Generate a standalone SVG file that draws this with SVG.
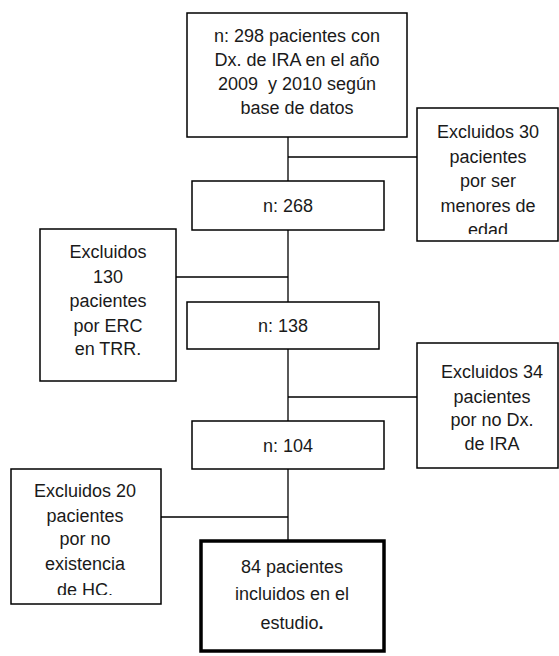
<svg xmlns="http://www.w3.org/2000/svg" width="559" height="656" viewBox="0 0 559 656">
<style>
.box{fill:#fff;stroke:#000;stroke-width:1.5}
.thick{fill:#fff;stroke:#000;stroke-width:3.5}
.ln{stroke:#000;stroke-width:1.3;fill:none}
text{font-family:"Liberation Sans",Arial,sans-serif;font-size:18px;fill:#1a1a1a;text-anchor:middle;white-space:pre}
</style>
<defs>
<clipPath id="c30"><rect x="417" y="108" width="142" height="126"/></clipPath>
<clipPath id="c20"><rect x="11" y="469" width="150" height="126"/></clipPath>
</defs>
<g id="connectors">
<path class="ln" d="M288 137V181M288 230V302M288 349V421M288 469V541"/>
<path class="ln" d="M288 157H417M176 277H288M288 397H417M161 517H288"/>
</g>
<g id="n298">
<rect class="box" x="187" y="13" width="220" height="124"/>
<text x="297" y="42">n: 298 pacientes con</text>
<text x="297" y="66">Dx. de IRA en el año</text>
<text x="297" y="90" xml:space="preserve">2009  y 2010 según</text>
<text x="297" y="114">base de datos</text>
</g>
<g id="excl30">
<rect class="box" x="417" y="108" width="141" height="133"/>
<g clip-path="url(#c30)">
<text x="488" y="138">Excluidos 30</text>
<text x="488" y="163">pacientes</text>
<text x="488" y="187">por ser</text>
<text x="488" y="212">menores de</text>
<text x="488" y="236">edad</text>
</g>
</g>
<g id="n268">
<rect class="box" x="192" y="181" width="192" height="49"/>
<text x="288" y="212">n: 268</text>
</g>
<g id="excl130">
<rect class="box" x="40" y="229" width="136" height="152"/>
<text x="108" y="258">Excluidos</text>
<text x="108" y="283">130</text>
<text x="108" y="307">pacientes</text>
<text x="108" y="332">por ERC</text>
<text x="108" y="355">en TRR.</text>
</g>
<g id="n138">
<rect class="box" x="187" y="302" width="192" height="47"/>
<text x="283" y="332">n: 138</text>
</g>
<g id="excl34">
<rect class="box" x="417" y="343" width="141" height="125"/>
<text x="492" y="378">Excluidos 34</text>
<text x="492" y="403">pacientes</text>
<text x="492" y="426">por no Dx.</text>
<text x="492" y="450">de IRA</text>
</g>
<g id="n104">
<rect class="box" x="192" y="421" width="192" height="48"/>
<text x="288" y="452">n: 104</text>
</g>
<g id="excl20">
<rect class="box" x="11" y="469" width="150" height="135"/>
<g clip-path="url(#c20)">
<text x="85" y="497">Excluidos 20</text>
<text x="85" y="522">pacientes</text>
<text x="85" y="545">por no</text>
<text x="85" y="570">existencia</text>
<text x="85" y="596">de HC.</text>
</g>
</g>
<g id="final">
<rect class="thick" x="201" y="541" width="183" height="110"/>
<text x="292" y="573">84 pacientes</text>
<text x="292" y="600">incluidos en el</text>
<text x="292" y="629">estudio<tspan font-weight="bold">.</tspan></text>
</g>
</svg>
